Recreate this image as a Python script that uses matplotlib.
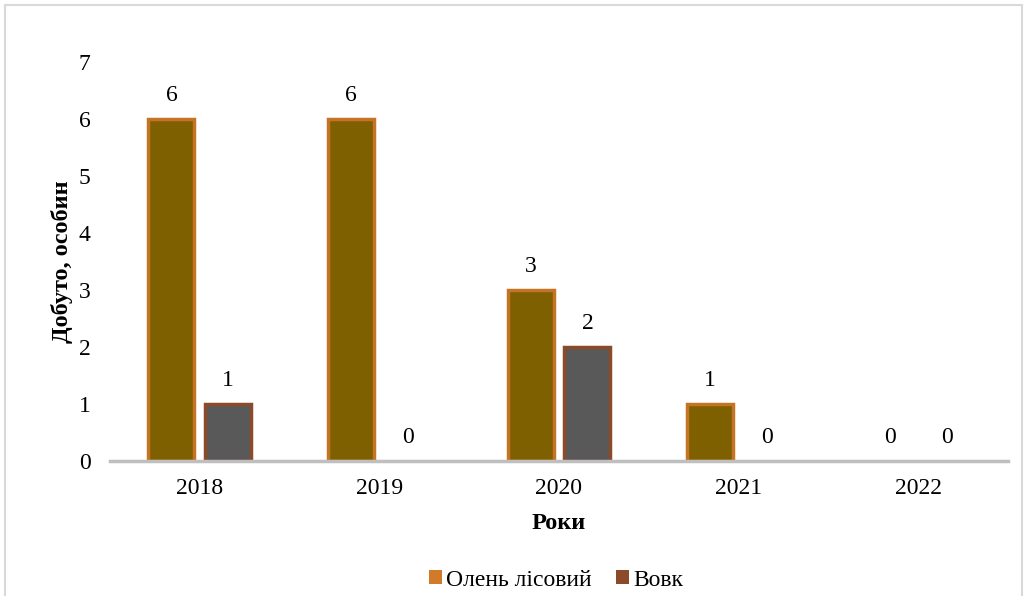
import numpy as np
import matplotlib.pyplot as plt
from matplotlib.patches import Rectangle, Patch

years = ["2018", "2019", "2020", "2021", "2022"]
deer = [6, 6, 3, 1, 0]
wolf = [1, 0, 2, 0, 0]
series_names = ["Олень лісовий", "Вовк"]

plt.rcParams["font.family"] = ["Liberation Serif", "DejaVu Serif"]

fig = plt.figure(figsize=(10.28, 5.96), dpi=100)
W, H = 1028, 596
ax = fig.add_axes([110 / W, 1 - 461 / H, 898 / W, (461 - 62) / H])

x = np.arange(len(years))
width = 0.256
off = 0.158

# bars with a darker centre and coloured edge, approximating the glow effect
b1 = ax.bar(x - off, deer, width, color="#7F6000", edgecolor="#C47424", linewidth=2.5)
b2 = ax.bar(x + off, wolf, width, color="#595959", edgecolor="#8B4A2A", linewidth=2.5)

for bars, vals in ((b1, deer), (b2, wolf)):
    for rect, v in zip(bars, vals):
        if v == 0:
            rect.set_linewidth(0)
        ax.text(rect.get_x() + rect.get_width() / 2, v + 0.22, str(v),
                ha="center", va="bottom", fontsize=17)

ax.set_xlim(-0.5, len(years) - 0.5)
ax.set_ylim(0, 7)
ax.set_yticks(range(8))
ax.set_xticks(x)
ax.set_xticklabels(years)
ax.tick_params(axis="both", length=0, labelsize=17)
ax.tick_params(axis="y", pad=14)
ax.tick_params(axis="x", pad=12)

for s in ("top", "right", "left"):
    ax.spines[s].set_visible(False)
ax.spines["bottom"].set_color("#BFBFBF")
ax.spines["bottom"].set_linewidth(2.5)

ax.set_xlabel("Роки", fontsize=17.5, fontweight="bold", labelpad=10)
ax.set_ylabel("Добуто, особин", fontsize=17.5, fontweight="bold", labelpad=4)

# legend
handles = [Patch(facecolor="#D07A2A"), Patch(facecolor="#8B4A2A")]
fig.legend(handles, series_names, loc="center", bbox_to_anchor=(556 / W, 1 - 580 / H),
           ncol=2, frameon=False, handlelength=0.55, handleheight=0.55,
           handletextpad=0.2, columnspacing=1.0,
           prop={"family": ["Liberation Serif", "DejaVu Serif"], "size": 17})

# outer chart frame
fig.patches.append(Rectangle((5 / W, -0.05), 1017 / W, 1 - 5 / H + 0.05,
                             transform=fig.transFigure, fill=False,
                             edgecolor="#D9D9D9", linewidth=1.5))

fig.savefig("out.png", dpi=100)
